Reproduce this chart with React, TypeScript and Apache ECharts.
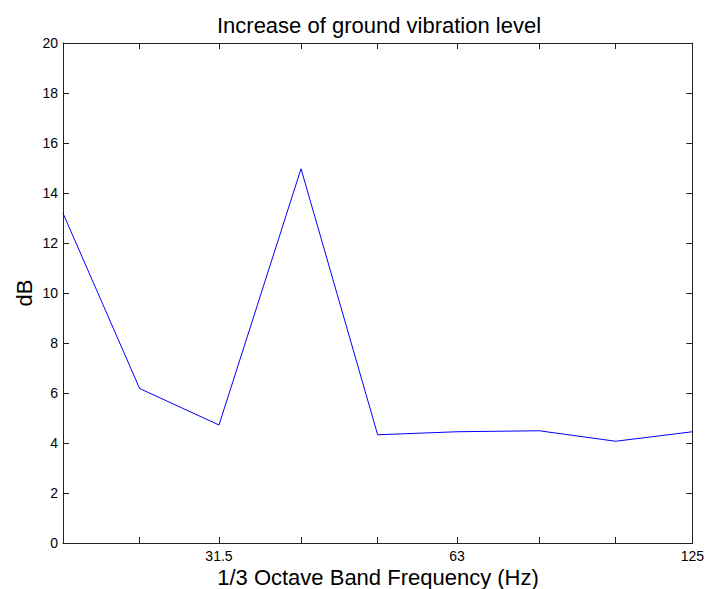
import React, { useEffect, useRef } from "react";
import * as echarts from "echarts";

const frequencies = [20, 25, 31.5, 40, 50, 63, 80, 100, 125];
const levels = [13.19, 6.18, 4.72, 14.97, 4.33, 4.45, 4.49, 4.07, 4.45];
const labelFrequencies = [31.5, 63, 125];
const yTicks = { min: 0, max: 20, interval: 2 };
const titleText = "Increase of ground vibration level";
const xName = "1/3 Octave Band Frequency (Hz)";
const yName = "dB";

const FONT = "'Liberation Sans', Arial, Helvetica, sans-serif";

export default function App() {
  const ref = useRef<HTMLDivElement>(null);
  useEffect(() => {
    if (!ref.current) return;
    const chart = echarts.init(ref.current, null, { renderer: "svg" });
    const lg = (f: number) => Math.log10(f);
    const xMin = lg(frequencies[0]);
    const xMax = lg(frequencies[frequencies.length - 1]);
    const tickVals = frequencies.map(lg);
    const labelVals = labelFrequencies.map(lg);
    const fmt = (v: number) => {
      let best = labelFrequencies[0];
      let bd = Infinity;
      for (const f of labelFrequencies) {
        const d = Math.abs(lg(f) - v);
        if (d < bd) { bd = d; best = f; }
      }
      return String(best);
    };
    const axisColor = "#222";
    const common = {
      axisLine: { show: true, onZero: false, lineStyle: { color: axisColor, width: 1 } },
      splitLine: { show: false },
    };
    chart.setOption({
      animation: false,
      backgroundColor: "#fff",
      grid: { left: 63, right: 11, top: 43, bottom: 46, containLabel: false },
      xAxis: [
        {
          type: "value",
          min: xMin,
          max: xMax,
          position: "bottom",
          ...common,
          axisTick: { show: true, inside: true, length: 6, customValues: tickVals, lineStyle: { color: axisColor } },
          axisLabel: {
            show: true,
            customValues: labelVals,
            formatter: fmt,
            color: "#000",
            fontSize: 14,
            fontFamily: FONT,
            margin: 6,
          },
        },
        {
          type: "value",
          min: xMin,
          max: xMax,
          position: "top",
          ...common,
          axisTick: { show: true, inside: true, length: 6, customValues: tickVals, lineStyle: { color: axisColor } },
          axisLabel: { show: false },
        },
      ],
      yAxis: [
        {
          type: "value",
          min: yTicks.min,
          max: yTicks.max,
          interval: yTicks.interval,
          position: "left",
          ...common,
          axisTick: { show: true, inside: true, length: 6, lineStyle: { color: axisColor } },
          axisLabel: { color: "#000", fontSize: 14, fontFamily: FONT, margin: 5 },
        },
        {
          type: "value",
          min: yTicks.min,
          max: yTicks.max,
          interval: yTicks.interval,
          position: "right",
          ...common,
          axisTick: { show: true, inside: true, length: 6, lineStyle: { color: axisColor } },
          axisLabel: { show: false },
        },
      ],
      series: [
        {
          type: "line",
          xAxisIndex: 0,
          yAxisIndex: 0,
          data: frequencies.map((f, i) => [lg(f), levels[i]]),
          showSymbol: false,
          symbol: "none",
          lineStyle: { color: "#0000ff", width: 1 },
          itemStyle: { color: "#0000ff" },
        },
      ],
      graphic: [
        {
          type: "text",
          x: 379,
          y: 25.5,
          style: { text: titleText, font: `22px ${FONT}`, fill: "#000", textAlign: "center", textVerticalAlign: "middle" },
        },
        {
          type: "text",
          x: 378,
          y: 577.5,
          style: { text: xName, font: `22px ${FONT}`, fill: "#000", textAlign: "center", textVerticalAlign: "middle" },
        },
        {
          type: "text",
          x: 24,
          y: 293,
          rotation: Math.PI / 2,
          style: { text: yName, font: `22px ${FONT}`, fill: "#000", textAlign: "center", textVerticalAlign: "middle" },
        },
      ],
    });
    return () => chart.dispose();
  }, []);
  return (
    <div
      ref={ref}
      style={{ position: "fixed", left: 0, top: 0, width: 707, height: 589, background: "#fff" }}
    />
  );
}
